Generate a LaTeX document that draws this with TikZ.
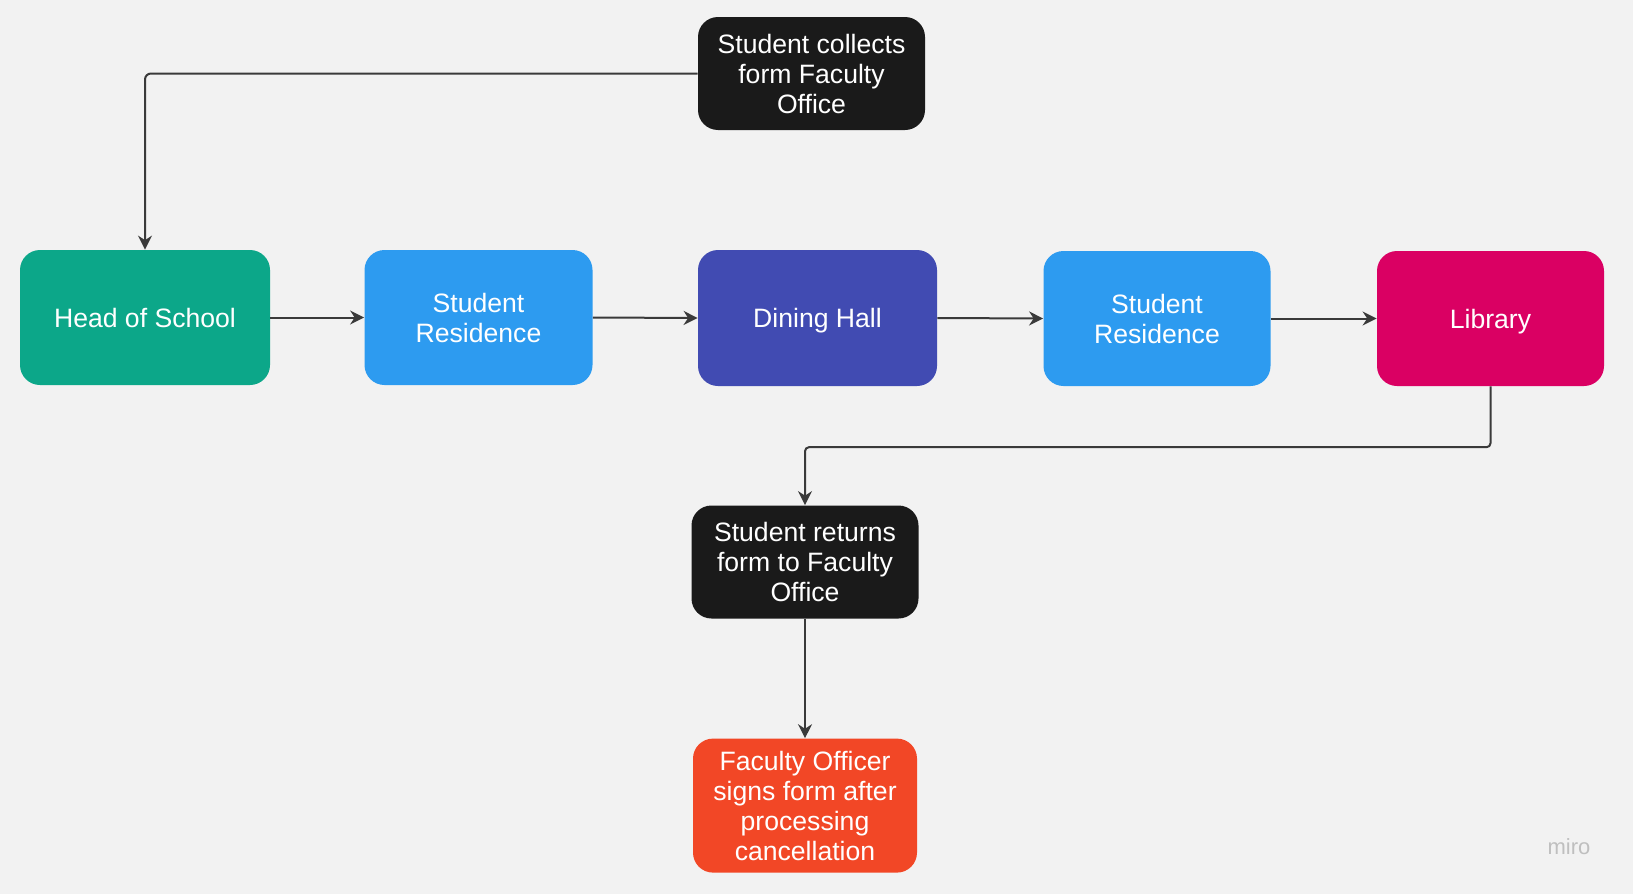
\documentclass[tikz,border=0pt]{standalone}
\usepackage{fontspec}
\setmainfont{Liberation Sans}
\usetikzlibrary{arrows.meta}
\definecolor{bgc}{HTML}{F2F2F2}
\definecolor{mgreen}{HTML}{0CA789}
\definecolor{mblue}{HTML}{2D9BF0}
\definecolor{mindigo}{HTML}{414BB2}
\definecolor{mpink}{HTML}{DA0063}
\definecolor{mblack}{HTML}{1A1A1A}
\definecolor{mred}{HTML}{F24726}
\definecolor{lnc}{HTML}{3A3A3A}
\tikzset{
  box/.style={rounded corners=10pt, text=white, align=center,
    font=\fontsize{13.3}{15}\selectfont, inner sep=0pt},
  conn/.style={draw=lnc, line width=1pt, -{Stealth[length=7pt,width=7pt]}},
}
\begin{document}
\begin{tikzpicture}[x=0.5pt,y=-0.5pt]
\fill[bgc] (0,0) rectangle (1633,894);
\useasboundingbox (0,0) rectangle (1633,894);
\node[box, fill=mblack, minimum width=113.5pt, minimum height=56.5pt] (top) at (811.5,73.5) {Student collects\\form Faculty\\Office};
\node[box, fill=mgreen, minimum width=125pt, minimum height=67.5pt] (hos) at (145,317.5) {Head of School};
\node[box, fill=mblue, minimum width=114pt, minimum height=67.5pt] (sr1) at (478.5,317.5) {Student\\Residence};
\node[box, fill=mindigo, minimum width=119.5pt, minimum height=68pt, text depth=0pt] (dh) at (817.5,318) {Dining Hall};
\node[box, fill=mblue, minimum width=113.5pt, minimum height=67.5pt] (sr2) at (1157,318.5) {Student\\Residence};
\node[box, fill=mpink, minimum width=113.5pt, minimum height=67.5pt, text depth=0pt] (lib) at (1490.5,318.5) {Library};
\node[box, fill=mblack, minimum width=113.5pt, minimum height=56.5pt] (ret) at (805,562) {Student returns\\form to Faculty\\Office};
\node[box, fill=mred, minimum width=112pt, minimum height=67pt] (fo) at (805,805.6) {Faculty Officer\\signs form after\\processing\\cancellation};
\node[text=black!25, font=\fontsize{11}{13}\selectfont] (miro) at (1569,847) {miro};
\draw[conn, rounded corners=3pt] (top.west) -| (hos.north);
\draw[conn] (hos.east) -- (sr1.west);
\draw[conn] (sr1.east) -- (dh.west);
\draw[conn] (dh.east) -- (sr2.west);
\draw[conn] (sr2.east) -- (lib.west);
\draw[conn, rounded corners=2pt] (lib.south) -- ++(0,60.8) -| (ret.north);
\draw[conn, line width=0.7pt] (ret.south) -- (fo.north);
\end{tikzpicture}
\end{document}
